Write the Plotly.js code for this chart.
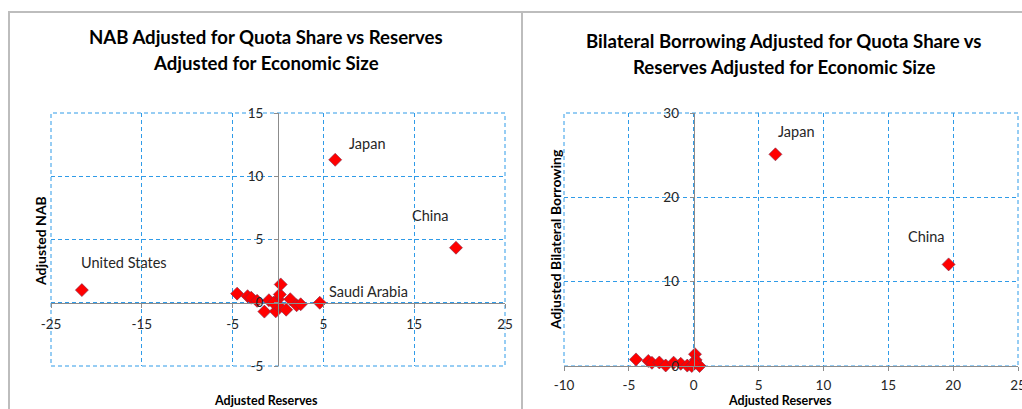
<!DOCTYPE html>
<html>
<head>
<meta charset="utf-8">
<script src="https://cdn.plot.ly/plotly-3.0.1.min.js"></script>
<style>
html, body { margin: 0; padding: 0; background: #ffffff; }
#chart { width: 1022px; height: 409px; }
</style>
</head>
<body>
<div id="chart"></div>
<script>
// ---------------- DATA ----------------
// Left chart: NAB adjusted for quota share vs reserves adjusted for economic size
const nabReserves = [-21.6, 6.3, 19.6, 4.6, -4.5, -3.35, -2.95, -2.3, -1.5, -1.0, -0.25, 0.0, 0.2, 0.3, 0.0, 0.9, 1.35, 2.05, 2.5, -0.5];
const nabValues   = [1.0, 11.3, 4.35, 0.0, 0.72, 0.52, 0.4, 0.15, -0.7, 0.2, -0.68, 0.28, 0.66, 1.45, -0.2, -0.55, 0.28, -0.2, -0.12, 0.0];
const nabLabels   = ["United States", "Japan", "China", "Saudi Arabia", "", "", "", "", "", "", "", "", "", "", "", "", "", "", "", ""];

// Right chart: bilateral borrowing adjusted for quota share vs reserves adjusted for economic size
const bbReserves = [6.3, 19.65, -4.45, -3.5, -3.22, -2.65, -2.16, -1.55, -1.0, -0.5, -0.15, 0.1, 0.15, 0.45, 0.05];
const bbValues   = [25.1, 12.05, 0.78, 0.6, 0.38, 0.42, 0.06, 0.4, 0.26, 0.05, 0.0, 1.4, 0.72, 0.0, 0.3];
const bbLabels   = ["Japan", "China", "", "", "", "", "", "", "", "", "", "", "", "", ""];

// Tick values
const nabXTicks = [-25, -15, -5, 5, 15, 25];
const nabYTicks = [-5, 0, 5, 10, 15];
const bbXTicks  = [-10, -5, 0, 5, 10, 15, 20, 25];
const bbYTicks  = [0, 10, 20, 30];

// Text
const nabTitleLines = ["NAB Adjusted for Quota Share vs Reserves", "Adjusted for Economic Size"];
const bbTitleLines  = ["Bilateral Borrowing Adjusted for Quota Share vs", "Reserves Adjusted for Economic Size"];
const nabXTitle = "Adjusted Reserves";
const nabYTitle = "Adjusted NAB";
const bbXTitle  = "Adjusted Reserves";
const bbYTitle  = "Adjusted Bilateral Borrowing";

// ---------------- STYLE / LAYOUT ----------------
const W = 1022, H = 409;
const px = x => x / W;
const py = y => 1 - y / H;

const FONT = "Lato, 'Open Sans', Arial, sans-serif";
const GRID = "#2F9BE8";
const AXIS = "#8C8C8C";
const DASH = "4px,3px";

// label offsets (pixels) for point labels
const labelShift = {
  nab: { "United States": [42, 28], "Japan": [32, 16], "China": [-25, 32], "Saudi Arabia": [49, 11] },
  bb:  { "Japan": [21, 23], "China": [-22, 28] }
};

const nabRangeX = [-25, 25], nabRangeY = [-5, 15];
const bbRangeX = [-10, 25], bbRangeY = [0, 30];

const nabDomX = [px(51), px(505)];
const nabDomY = [py(366), py(113)];
const bbDomX  = [px(564), px(1018)];
const bbDomY  = [py(366), py(113)];

function zeroPos(dom, range) {
  return dom[0] + (0 - range[0]) / (range[1] - range[0]) * (dom[1] - dom[0]);
}

const tickFont = { family: FONT, size: 13.5, color: "#262626" };

function axisBase(range, ticks, domain) {
  return {
    range: range, domain: domain,
    tickmode: "array", tickvals: ticks, ticktext: ticks.map(String),
    showgrid: true, gridcolor: GRID, gridwidth: 1, griddash: DASH,
    zeroline: false,
    showline: true, linecolor: AXIS, linewidth: 1,
    ticks: "outside", ticklen: 4, tickcolor: AXIS, tickwidth: 1,
    tickfont: tickFont, ticklabeloverflow: "allow",
    fixedrange: true
  };
}

const markerStyle = {
  symbol: "diamond", size: 10, color: "#FF0000",
  line: { color: "#7A2A4A", width: 0.6 }
};

const traces = [
  {
    type: "scatter", mode: "markers",
    x: nabReserves, y: nabValues,
    xaxis: "x", yaxis: "y",
    marker: markerStyle, cliponaxis: false, hoverinfo: "none", showlegend: false
  },
  {
    type: "scatter", mode: "markers",
    x: bbReserves, y: bbValues,
    xaxis: "x2", yaxis: "y2",
    marker: markerStyle, cliponaxis: false, hoverinfo: "none", showlegend: false
  }
];

const xaxis = Object.assign(axisBase(nabRangeX, nabXTicks, nabDomX), {
  anchor: "free", position: zeroPos(nabDomY, nabRangeY), ticklabelstandoff: 5
});
const yaxis = Object.assign(axisBase(nabRangeY, nabYTicks, nabDomY), {
  anchor: "free", position: zeroPos(nabDomX, nabRangeX), ticklabelstandoff: 8
});
const xaxis2 = Object.assign(axisBase(bbRangeX, bbXTicks, bbDomX), {
  anchor: "y2", ticklabelstandoff: 3
});
const yaxis2 = Object.assign(axisBase(bbRangeY, bbYTicks, bbDomY), {
  anchor: "free", position: zeroPos(bbDomX, bbRangeX), ticklabelstandoff: 8
});

const annotations = [];
const titleFont = { family: FONT, size: 18.6, color: "#000000" };
function addTitle(lines, cx, ys) {
  lines.forEach((t, i) => annotations.push({
    text: "<b>" + t + "</b>", xref: "paper", yref: "paper",
    x: px(cx), y: py(ys[i]), xanchor: "center", yanchor: "middle",
    showarrow: false, font: titleFont
  }));
}
addTitle(nabTitleLines, 266, [37, 63]);
addTitle(bbTitleLines, 784, [41, 67]);

const axTitleFont = { family: FONT, size: 12.5, color: "#000000" };
const yTitleFont = { family: FONT, size: 14, color: "#000000" };
annotations.push({ text: "<b>" + nabXTitle + "</b>", xref: "paper", yref: "paper",
  x: px(266), y: 0, xanchor: "center", yanchor: "bottom", borderpad: 0, showarrow: false, font: axTitleFont });
annotations.push({ text: "<b>" + bbXTitle + "</b>", xref: "paper", yref: "paper",
  x: px(780), y: 0, xanchor: "center", yanchor: "bottom", borderpad: 0, showarrow: false, font: axTitleFont });
annotations.push({ text: "<b>" + nabYTitle + "</b>", xref: "paper", yref: "paper",
  x: px(40), y: py(241), xanchor: "center", yanchor: "middle", textangle: -90, showarrow: false, font: yTitleFont });
annotations.push({ text: "<b>" + bbYTitle + "</b>", xref: "paper", yref: "paper",
  x: px(555), y: py(240), xanchor: "center", yanchor: "middle", textangle: -90, showarrow: false, font: yTitleFont });

const labelFont = { family: FONT, size: 14.5, color: "#262626" };
nabLabels.forEach((lab, i) => {
  if (!lab) return;
  const s = labelShift.nab[lab] || [0, 0];
  annotations.push({ text: lab, x: nabReserves[i], y: nabValues[i], xref: "x", yref: "y",
    xshift: s[0], yshift: s[1], showarrow: false, font: labelFont, xanchor: "center", yanchor: "middle" });
});
bbLabels.forEach((lab, i) => {
  if (!lab) return;
  const s = labelShift.bb[lab] || [0, 0];
  annotations.push({ text: lab, x: bbReserves[i], y: bbValues[i], xref: "x2", yref: "y2",
    xshift: s[0], yshift: s[1], showarrow: false, font: labelFont, xanchor: "center", yanchor: "middle" });
});

const frameLine = { color: "#BDBDBD", width: 2 };
const gridBorder = { color: GRID, width: 1, dash: DASH };
const shapes = [
  // dashed borders of the two plot areas (edge gridlines)
  { type: "rect", xref: "x domain", yref: "y domain", x0: 0, x1: 1, y0: 0, y1: 1, line: gridBorder, layer: "below" },
  { type: "rect", xref: "x2 domain", yref: "y2 domain", x0: 0, x1: 1, y0: 0, y1: 1, line: gridBorder, layer: "below" },
  // chart frames
  { type: "line", xref: "paper", yref: "paper", x0: px(9), x1: px(9), y0: py(12), y1: -0.05, line: frameLine },
  { type: "line", xref: "paper", yref: "paper", x0: px(8), x1: 1.05, y0: py(12), y1: py(12), line: frameLine },
  { type: "line", xref: "paper", yref: "paper", x0: px(522), x1: px(522), y0: py(12), y1: -0.05, line: frameLine }
];

const layout = {
  width: W, height: H,
  margin: { l: 0, r: 0, t: 0, b: 0 },
  paper_bgcolor: "#ffffff", plot_bgcolor: "rgba(0,0,0,0)",
  showlegend: false,
  font: { family: FONT, color: "#262626" },
  xaxis: xaxis, yaxis: yaxis, xaxis2: xaxis2, yaxis2: yaxis2,
  annotations: annotations,
  shapes: shapes
};

Plotly.newPlot("chart", traces, layout, { staticPlot: true, displayModeBar: false });
</script>
</body>
</html>
